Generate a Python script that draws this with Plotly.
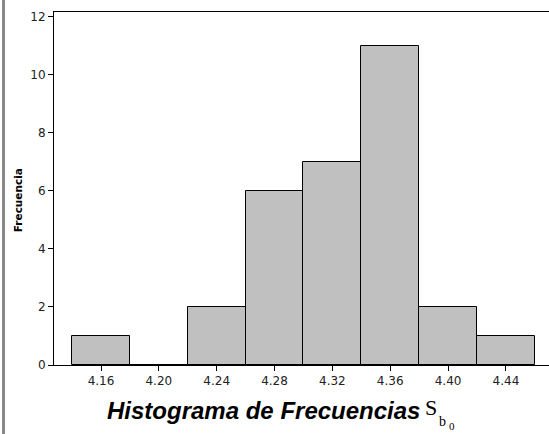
import plotly.graph_objects as go

bin_centers = [4.16, 4.20, 4.24, 4.28, 4.32, 4.36, 4.40, 4.44]
frequencies = [1, 0, 2, 6, 7, 11, 2, 1]
x_tick_labels = ["4.16", "4.20", "4.24", "4.28", "4.32", "4.36", "4.40", "4.44"]
y_tick_values = [0, 2, 4, 6, 8, 10, 12]
bin_width = 0.04

fig = go.Figure()
fig.add_trace(go.Bar(
    x=bin_centers, y=frequencies, width=bin_width,
    marker=dict(color="#C0C0C0", line=dict(color="#000000", width=1)),
    hoverinfo="x+y",
))

tick_font = dict(family="DejaVu Sans", size=12, color="#222222")

fig.update_layout(
    width=549, height=434,
    margin=dict(l=54, r=0, t=12, b=69),
    paper_bgcolor="white", plot_bgcolor="white",
    showlegend=False,
    bargap=0,
    xaxis=dict(
        range=[4.1275, 4.4698],
        tickvals=bin_centers, ticktext=x_tick_labels,
        ticks="outside", ticklen=5, tickcolor="#000",
        showline=True, linecolor="#000", linewidth=1, mirror=True,
        showgrid=False, zeroline=False, tickfont=tick_font,
    ),
    yaxis=dict(
        range=[0, 12.17],
        tickvals=y_tick_values,
        ticks="outside", ticklen=5, tickcolor="#000",
        showline=True, linecolor="#000", linewidth=1,
        showgrid=False, zeroline=False, tickfont=tick_font,
    ),
)

# left gray strip
fig.add_shape(type="rect", xref="paper", yref="paper",
              x0=-0.105, x1=-0.099, y0=-0.2, y1=1.04,
              fillcolor="#888888", line=dict(width=0), layer="above")

def ann(text, x, y, font, angle=0):
    fig.add_annotation(text=text, xref="paper", yref="paper", x=x, y=y,
                       xanchor="center", yanchor="middle", textangle=angle,
                       showarrow=False, font=font)

# y title
ann("<b>Frecuencia</b>", -0.0727, 0.467,
    dict(family="DejaVu Sans", size=10.5, color="#000"), angle=-90)

# x title
ann("<b><i>Histograma de Frecuencias</i></b>", 0.424, -0.130,
    dict(family="Liberation Sans", size=24, color="#000"))
ann("S", 0.761, -0.121, dict(family="Liberation Serif", size=22, color="#000"))
ann("b", 0.784, -0.160, dict(family="Liberation Serif", size=14, color="#000"))
ann("0", 0.804, -0.172, dict(family="Liberation Serif", size=11, color="#000"))

fig.write_html("out.html")
